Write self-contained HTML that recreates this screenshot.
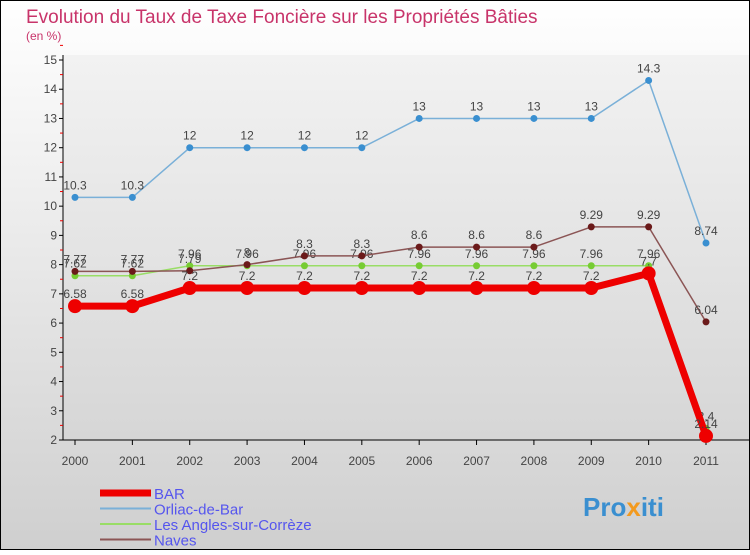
<!DOCTYPE html>
<html><head><meta charset="utf-8"><style>
body{margin:0;width:750px;height:550px;overflow:hidden;font-family:"Liberation Sans",sans-serif}
</style></head><body>
<svg id="c" width="750" height="550" viewBox="0 0 750 550" xmlns="http://www.w3.org/2000/svg">
<defs>
<linearGradient id="bg" x1="0" y1="0" x2="0" y2="1"><stop offset="0" stop-color="#ffffff"/><stop offset="1" stop-color="#cfcfcf"/></linearGradient>
<linearGradient id="pl" x1="0" y1="0" x2="0" y2="1"><stop offset="0" stop-color="#f2f2f2"/><stop offset="1" stop-color="#d6d6d6"/></linearGradient>
</defs>
<rect x="0.5" y="0.5" width="749" height="549" fill="url(#bg)" stroke="#000"/>
<rect x="63" y="55" width="686" height="385" fill="url(#pl)"/>
<text x="26" y="23" font-size="19" fill="#c8346a">Evolution du Taux de Taxe Foncière sur les Propriétés Bâties</text>
<text x="26" y="40" font-size="12" fill="#c8346a">(en %)</text>
<g id="axes"></g>
<g id="series"></g>
<g id="legend"></g>
<text x="583" y="516" font-size="26" font-weight="bold" fill="#3a8fd0">Pro<tspan fill="#f39a1e">x</tspan>iti</text>
</svg>
<script>
const years=[2000,2001,2002,2003,2004,2005,2006,2007,2008,2009,2010,2011];
const yTicks=[2,3,4,5,6,7,8,9,10,11,12,13,14,15];
const names=["BAR","Orliac-de-Bar","Les Angles-sur-Corrèze","Naves"];
const bar=[6.58,6.58,7.2,7.2,7.2,7.2,7.2,7.2,7.2,7.2,7.7,2.14];
const orliac=[10.3,10.3,12,12,12,12,13,13,13,13,14.3,8.74];
const angles=[7.62,7.62,7.96,7.96,7.96,7.96,7.96,7.96,7.96,7.96,7.96,2.4];
const naves=[7.77,7.77,7.79,8,8.3,8.3,8.6,8.6,8.6,9.29,9.29,6.04];
const NS="http://www.w3.org/2000/svg";
const X=i=>75+i*(706-75)/11;
const Y=v=>440-(v-2)*(380/13);
function mk(t,a,p){const e=document.createElementNS(NS,t);for(const k in a)e.setAttribute(k,a[k]);p.appendChild(e);return e;}
const ax=document.getElementById('axes');
const yl=mk('line',{x1:63,y1:55,x2:63,y2:440,stroke:'#000'},ax);


const xl=mk('line',{x1:63,y1:440,x2:749,y2:440,stroke:'#000'},ax);


yTicks.forEach(v=>{
 mk('line',{x1:59,x2:63,y1:Y(v),y2:Y(v),stroke:'#000'},ax);
 mk('line',{x1:60,x2:63,y1:Y(v+0.5),y2:Y(v+0.5),stroke:'#e00'},ax);
 const t=mk('text',{x:57,y:Y(v)+4,'font-size':12,'text-anchor':'end',fill:'#444'},ax);t.textContent=v;
 
 
});
years.forEach((y,i)=>{
 mk('line',{x1:X(i),x2:X(i),y1:440,y2:445,stroke:'#000'},ax);
 const t=mk('text',{x:X(i),y:465,'font-size':12,'text-anchor':'middle',fill:'#444'},ax);t.textContent=y;
 
 
});
const sg=document.getElementById('series');
const specs=[[orliac,'#7ab0d8',1.5,'#3a8fd0',3.5],[angles,'#99dd66',1.5,'#77cc33',3.5],[naves,'#8b5555',1.5,'#6b1a1a',3.5],[bar,'#ee0000',7,'#ee0000',7]];
const order=[1,2,3,0];
specs.forEach((s,k)=>{
 const [d,c,w,pc,r]=s;
 const g=mk('g',{},sg);
 
 
 mk('polyline',{points:d.map((v,i)=>X(i)+','+Y(v)).join(' '),fill:'none',stroke:c,'stroke-width':w,'stroke-linejoin':'round'},g);
 d.forEach((v,i)=>{
  const p=mk('circle',{cx:X(i),cy:Y(v),r:r,fill:pc},g);
  
  
  const t=mk('text',{x:X(i),y:Y(v)-8,'font-size':12,'text-anchor':'middle',fill:'#444'},g);
  t.textContent=String(v);
  
  
 });
});
const lg=document.getElementById('legend');
const lc=[['#ee0000',7],['#7ab0d8',2],['#99dd66',2],['#8b5555',2]];
names.forEach((n,i)=>{
 const y=493+i*15.5;
 const g=mk('g',{},lg);
 
 
 mk('line',{x1:100,x2:151,y1:y,y2:y,stroke:lc[i][0],'stroke-width':lc[i][1]},g);
 const t=mk('text',{x:154,y:y+6,'font-size':15,fill:'#5555ee'},g);t.textContent=n;
});
</script>
</body></html>
